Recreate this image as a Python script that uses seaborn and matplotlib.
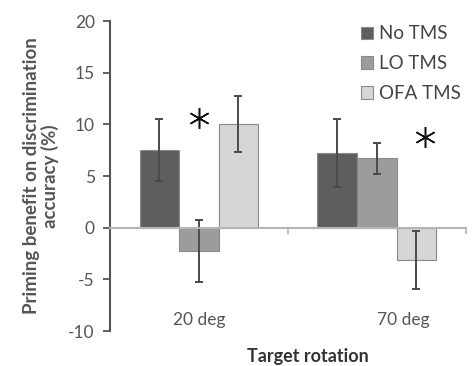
import matplotlib
matplotlib.use("Agg")
import matplotlib.pyplot as plt
import pandas as pd
import seaborn as sns

# Data
rotations = ["20 deg", "70 deg"]
conditions = ["No TMS", "LO TMS", "OFA TMS"]
no_tms = [7.5, 7.2]
lo_tms = [-2.3, 6.7]
ofa_tms = [10.0, -3.1]
no_tms_err = [3.0, 3.3]
lo_tms_err = [3.0, 1.5]
ofa_tms_err = [2.7, 2.8]

values = {"No TMS": no_tms, "LO TMS": lo_tms, "OFA TMS": ofa_tms}
errors = {"No TMS": no_tms_err, "LO TMS": lo_tms_err, "OFA TMS": ofa_tms_err}

rows = []
for c in conditions:
    for r, v in zip(rotations, values[c]):
        rows.append({"rotation": r, "condition": c, "benefit": v})
df = pd.DataFrame(rows)

sns.set_style("white")
plt.rcParams["font.family"] = ["Lato", "DejaVu Sans"]

palette = {"No TMS": "#5e5e5e", "LO TMS": "#9c9c9c", "OFA TMS": "#d6d6d6"}
text_col = "#555555"

fig = plt.figure(figsize=(4.73, 3.66), dpi=100)
ax = fig.add_axes([0.2326, 0.0956, 0.752, 0.847])

sns.barplot(data=df, x="rotation", y="benefit", hue="condition",
            order=rotations, hue_order=conditions, palette=palette,
            width=0.667, edgecolor="#8a8a8a", linewidth=0.8, errorbar=None,
            saturation=1, ax=ax)

# Error bars
for cont, c in zip(ax.containers, conditions):
    xs = [b.get_x() + b.get_width() / 2 for b in cont]
    ax.errorbar(xs, values[c], yerr=errors[c], fmt="none", ecolor="#4a4a4a",
                elinewidth=1.4, capsize=3, capthick=1.4)

# Significance marks (thin six-armed asterisks)
ax.plot([0.0, 1.27], [10.6, 8.8], linestyle="none", marker=(6, 2, 0),
        markersize=15, markeredgewidth=1.1, color="#111111")

ax.set_ylim(-10, 20)
ax.set_xlim(-0.5, 1.5)
ax.set_yticks([-10, -5, 0, 5, 10, 15, 20])
ax.set_yticklabels(["-10", "-5", "0", "5", "10", "15", "20"])
ax.tick_params(axis="y", direction="out", length=5, width=1.3, colors="#555555",
               labelsize=12.5, labelcolor=text_col, pad=6, left=True)

for s in ["top", "right"]:
    ax.spines[s].set_visible(False)
ax.spines["left"].set_color("#555555")
ax.spines["left"].set_linewidth(1.5)
ax.spines["bottom"].set_position(("data", 0))
ax.spines["bottom"].set_color("#b5b5b5")
ax.spines["bottom"].set_linewidth(1.5)

# boundary ticks on the zero line, labels at the bottom
ax.set_xticks([0.5, 1.5])
ax.set_xticklabels(["", ""])
ax.set_xticks([0, 1.15], minor=True)
ax.set_xticklabels(rotations, minor=True)
ax.tick_params(axis="x", which="major", direction="out", length=4, width=1.2,
               colors="#b5b5b5", bottom=True)
ax.tick_params(axis="x", which="minor", length=0, pad=61, labelsize=12.5,
               labelcolor=text_col)

ax.set_xlabel("")
ax.set_ylabel("Priming benefit on discrimination\naccuracy (%)", fontsize=13.5,
              fontweight="bold", color=text_col, labelpad=7, linespacing=1.05)
fig.text(0.65, 0.025, "Target rotation", ha="center", va="center",
         fontsize=13, fontweight="bold", color="#333333")

leg = ax.legend(loc="upper right", bbox_to_anchor=(1.035, 1.04), frameon=False,
                fontsize=13.5, handlelength=0.65, handleheight=0.65,
                handletextpad=0.35, labelspacing=0.68)
for t in leg.get_texts():
    t.set_color("#444444")

fig.savefig("out.png", dpi=100)
